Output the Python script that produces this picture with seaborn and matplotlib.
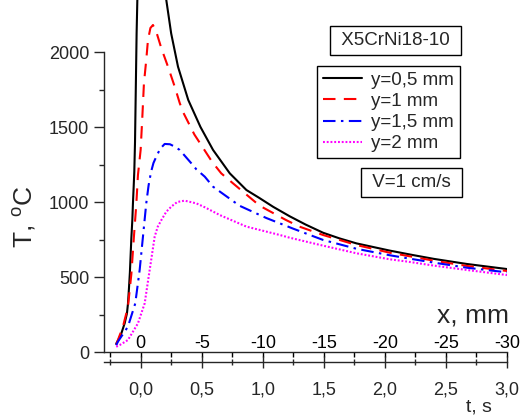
import matplotlib
matplotlib.use("Agg")
import matplotlib.pyplot as plt
import seaborn as sns
import pandas as pd
from matplotlib.ticker import MultipleLocator

# data (t in s, T in deg C)
t_05 = [-0.20, -0.18, -0.158, -0.131, -0.112, -0.104, -0.096, -0.088, -0.082, -0.076, -0.068,
        -0.063, -0.057, -0.052, -0.046, -0.041, -0.033, -0.027, -0.02, 0.08, 0.19, 0.21,
        0.25, 0.306, 0.39, 0.49, 0.593, 0.73, 0.866, 0.97, 1.085, 1.22, 1.35, 1.494, 1.63,
        1.768, 2.04, 2.205, 2.40, 2.67, 3.0]
T_05 = [55, 85, 124, 191, 258, 320, 420, 530, 645, 760, 880,
        991, 1102, 1200, 1400, 1680, 2124, 2347, 2600, 3500, 2600, 2347,
        2124, 1902, 1680, 1500, 1347, 1191, 1080, 1028, 968, 905, 850, 795, 757,
        724, 676, 650, 621, 587, 553]

t_10 = [-0.20, -0.186, -0.145, -0.104, -0.076, -0.055, -0.035, -0.022, 0.0, 0.014, 0.027,
        0.046, 0.06, 0.08, 0.101, 0.13, 0.17, 0.224, 0.279, 0.32, 0.347, 0.44, 0.585, 0.66,
        0.757, 0.975, 1.19, 1.30, 1.494, 1.768, 2.04, 2.19, 2.40, 2.67, 3.0]
T_10 = [50, 80, 169, 300, 520, 769, 991, 1180, 1347, 1569, 1791,
        1947, 2080, 2160, 2180, 2130, 2024, 1902, 1769, 1660, 1600, 1450, 1268, 1191,
        1124, 975, 880, 836, 780, 713, 662, 640, 609, 574, 540]

t_15 = [-0.20, -0.186, -0.104, -0.044, -0.008, 0.019, 0.046, 0.065, 0.085, 0.105, 0.128,
        0.16, 0.197, 0.24, 0.279, 0.32, 0.415, 0.456, 0.525, 0.593, 0.81, 1.03, 1.25,
        1.494, 1.768, 2.04, 2.19, 2.40, 2.67, 3.0]
T_15 = [45, 69, 169, 324, 547, 769, 991, 1110, 1200, 1260, 1302,
        1355, 1387, 1385, 1369, 1347, 1258, 1218, 1169, 1102, 975, 893, 822,
        747, 688, 645, 624, 596, 562, 531]

t_20 = [-0.20, -0.17, -0.104, -0.022, 0.033, 0.074, 0.115, 0.14, 0.17, 0.21, 0.252, 0.30,
        0.36, 0.456, 0.525, 0.648, 0.866, 1.14, 1.22, 1.494, 1.768, 2.04, 2.19, 2.40,
        2.67, 3.0]
T_20 = [35, 47, 80, 191, 324, 547, 769, 835, 880, 935, 970, 1000,
        1009, 991, 965, 913, 836, 780, 762, 709, 658, 618, 602, 576,
        547, 513]

t_ticks = [0.0, 0.5, 1.0, 1.5, 2.0, 2.5, 3.0]
t_labels = ["0,0", "0,5", "1,0", "1,5", "2,0", "2,5", "3,0"]
mm_labels = ["0", "-5", "-10", "-15", "-20", "-25", "-30"]
T_ticks = [0, 500, 1000, 1500, 2000]
T_minor = [250, 750, 1250, 1750]

series = [
    ("y=0,5 mm", t_05, T_05, "black", "-"),
    ("y=1 mm", t_10, T_10, "#ff0000", (0, (6, 4))),
    ("y=1,5 mm", t_15, T_15, "#0000ff", (0, (6, 2.6, 1.2, 2.6))),
    ("y=2 mm", t_20, T_20, "#ff00ff", (0, (0.9, 0.9))),
]

sns.set_style("ticks")
plt.rcParams["font.family"] = ["Liberation Sans", "DejaVu Sans"]
plt.rcParams["mathtext.fontset"] = "custom"
plt.rcParams["mathtext.rm"] = "Liberation Sans"

W, H = 527, 415
fig = plt.figure(figsize=(W / 100, H / 100), dpi=100)
ax = fig.add_axes([104 / W, 63 / H, 403 / W, 352 / H])

for name, tt, TT, col, ls in series:
    df = pd.DataFrame({"t": tt, "T": TT})
    sns.lineplot(data=df, x="t", y="T", ax=ax, color=col, linestyle=ls, lw=1.5,
                 label=name, sort=False)

ax.set_xlim(-0.3, 3.0)
ax.set_ylim(0, 352 / 0.15)
ax.set_xlabel("")
ax.set_ylabel("")
for s in ["top", "right"]:
    ax.spines[s].set_visible(False)
ax.spines["left"].set_bounds(0, 2000)
ax.spines["left"].set_linewidth(1)
ax.spines["bottom"].set_linewidth(1)

# upper x scale (mm), labels drawn above the y=0 line
ax.set_xticks(t_ticks, labels=mm_labels)
ax.xaxis.set_minor_locator(MultipleLocator(0.25))
ax.tick_params(axis="x", which="both", direction="out", length=3.5, width=1,
               labelsize=13, pad=-16, colors="black")
ax.set_yticks(T_ticks)
ax.set_yticks(T_minor, minor=True)
ax.tick_params(axis="y", which="major", direction="out", length=7, width=1,
               labelsize=13, pad=3.6)
ax.tick_params(axis="y", which="minor", direction="out", length=3.5, width=1)

# lower x scale (time)
ax2 = ax.twiny()
ax2.set_xlim(-0.3, 3.0)
ax2.xaxis.tick_bottom()
for s in ["top", "right", "left"]:
    ax2.spines[s].set_visible(False)
ax2.spines["bottom"].set_position(("outward", 7.2))
ax2.spines["bottom"].set_linewidth(1)
ax2.set_xticks(t_ticks, labels=t_labels)
ax2.xaxis.set_minor_locator(MultipleLocator(0.25))
ax2.tick_params(axis="x", which="major", direction="inout", length=8, width=1,
                labelsize=13, pad=10)
ax2.tick_params(axis="x", which="minor", direction="inout", length=5, width=1)

leg = ax.legend(loc="upper left", bbox_to_anchor=(317 / W, 1 - 66 / H),
                bbox_transform=fig.transFigure, fontsize=13.5, frameon=True,
                fancybox=False, framealpha=1, edgecolor="black", borderaxespad=0,
                handlelength=2.1, handletextpad=0.5, labelspacing=0.22, borderpad=0.3)
leg.get_frame().set_linewidth(1)

box = dict(boxstyle="square,pad=0.3", fc="white", ec="black", lw=1)
fig.text(395.5 / W, 1 - 40.5 / H, " X5CrNi18-10 ", ha="center", va="center",
         fontsize=13.5, bbox=box)
fig.text(411.5 / W, 1 - 182.5 / H, " V=1 cm/s ", ha="center", va="center",
         fontsize=13.5, bbox=box)

fig.text(24 / W, 1 - 217 / H, "T, $^\\mathregular{o}$C", rotation=90, ha="center",
         va="center", fontsize=19)
fig.text(473 / W, 1 - 315 / H, "x, mm", ha="center", va="center", fontsize=19)
fig.text(479 / W, 1 - 407 / H, "t, s", ha="center", va="center", fontsize=14)

fig.savefig("out.png", dpi=100)
